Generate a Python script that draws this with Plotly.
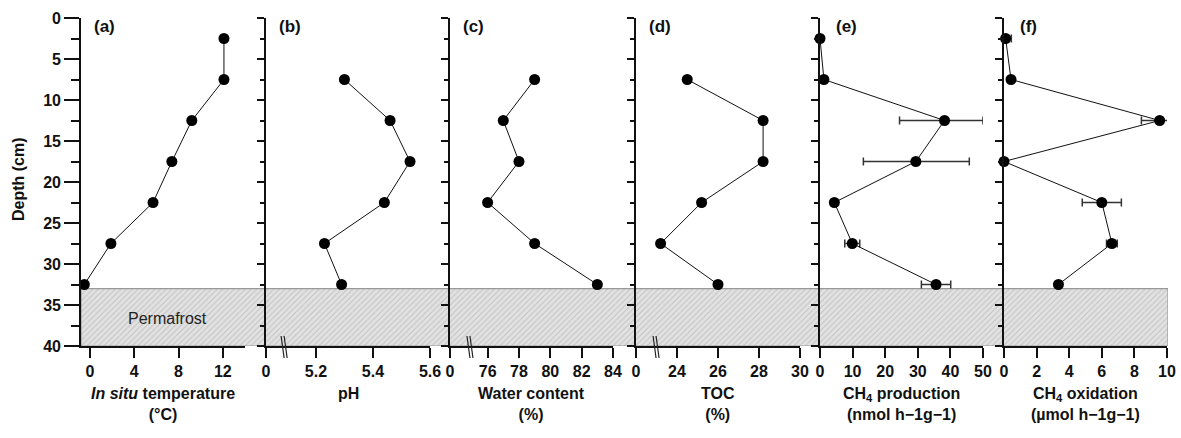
import plotly.graph_objects as go

# ---------------- data ----------------
depth = [2.5, 7.5, 12.5, 17.5, 22.5, 27.5, 32.5]
temperature = [12.1, 12.1, 9.2, 7.4, 5.7, 1.9, -0.5]
ph_depth = [7.5, 12.5, 17.5, 22.5, 27.5, 32.5]
ph = [5.30, 5.46, 5.53, 5.44, 5.23, 5.29]
water_content = [79.0, 77.0, 78.0, 76.0, 79.0, 83.0]
toc = [24.5, 28.2, 28.2, 25.2, 23.2, 26.0]
ch4_production = [0.0, 1.2, 38.2, 29.4, 4.4, 9.9, 35.6]
ch4_production_err_plus = [0, 0, 11.8, 16.4, 0, 2.3, 4.5]
ch4_production_err_minus = [0, 0, 13.8, 16.1, 0, 2.3, 4.5]
ch4_oxidation = [0.1, 0.43, 9.55, 0.0, 6.0, 6.62, 3.34]
ch4_oxidation_err = [0.35, 0, 1.12, 0, 1.2, 0.33, 0.15]

permafrost_top = 33
permafrost_bottom = 40

depth_ticks = [0, 5, 10, 15, 20, 25, 30, 35, 40]
depth_ticktext = ["0", "5", "10", "15", "20", "25", "30", "35", "40"]
panel_letters = ["(a)", "(b)", "(c)", "(d)", "(e)", "(f)"]
x_titles = [
    "<i>In situ</i> temperature<br>(°C)",
    "pH",
    "Water content<br>(%)",
    "TOC<br>(%)",
    "CH<sub>4</sub> production<br>(nmol h\u22121g\u22121)",
    "CH<sub>4</sub> oxidation<br>(µmol h\u22121g\u22121)",
]
x_ranges = [[-0.8, 14], [5.025, 5.6], [73.6, 84], [22, 30], [0, 50], [0, 10]]
x_tickvals = [
    [0, 4, 8, 12],
    [5.025, 5.2, 5.4, 5.6],
    [73.6, 76, 78, 80, 82, 84],
    [22, 24, 26, 28, 30],
    [0, 10, 20, 30, 40, 50],
    [0, 2, 4, 6, 8, 10],
]
x_ticktext = [
    ["0", "4", "8", "12"],
    ["0", "5.2", "5.4", "5.6"],
    ["0", "76", "78", "80", "82", "84"],
    ["0", "24", "26", "28", "30"],
    ["0", "10", "20", "30", "40", "50"],
    ["0", "2", "4", "6", "8", "10"],
]
# axis-break positions (panel index -> x value)
axis_breaks = {1: 5.085, 2: 74.81, 3: 22.93}

# ---------------- layout geometry ----------------
W, H = 1181, 438
panel_px = [(81, 245), (266, 430), (450, 613), (636, 800), (820, 983), (1004, 1167)]
top_px, bottom_px = 18, 346
ydom = [(H - bottom_px) / H, (H - top_px) / H]
FONT = "Liberation Sans, Arial, sans-serif"
INK = "#111111"

def bold(labels):
    return [f"<b>{t}</b>" for t in labels]

fig = go.Figure()

# permafrost hatched band (first subplot so it is drawn beneath the panels)
fig.add_trace(go.Scatter(
    x=[0, 1, 1, 0, 0],
    y=[permafrost_top, permafrost_top, permafrost_bottom, permafrost_bottom, permafrost_top],
    mode="lines", fill="toself",
    fillcolor="#e0e0e0",
    fillpattern=dict(shape="/", fgcolor="#a0a0a0", bgcolor="#e2e2e2", size=4, solidity=0.25),
    line=dict(color="#999999", width=1.2),
    xaxis="x", yaxis="y", showlegend=False, hoverinfo="skip",
))
layout = dict(
    xaxis=dict(domain=[panel_px[0][0] / W, 1168 / W], range=[0, 1], visible=False, fixedrange=True),
    yaxis=dict(domain=ydom, range=[40, 0], visible=False, anchor="x"),
)

series = [
    (temperature, depth, None, None),
    (ph, ph_depth, None, None),
    (water_content, ph_depth, None, None),
    (toc, ph_depth, None, None),
    (ch4_production, depth, ch4_production_err_plus, ch4_production_err_minus),
    (ch4_oxidation, depth, ch4_oxidation_err, ch4_oxidation_err),
]

annotations = []
shapes = []
for i, (xv, yv, ep, em) in enumerate(series):
    k = i + 2
    xa, ya = f"x{k}", f"y{k}"
    tr = dict(
        x=xv, y=yv, mode="lines+markers",
        line=dict(color=INK, width=1),
        marker=dict(color="#000000", size=11),
        xaxis=xa, yaxis=ya, showlegend=False, cliponaxis=False,
    )
    if ep is not None:
        tr["error_x"] = dict(type="data", array=ep, arrayminus=em, symmetric=False,
                             color="#333333", thickness=1.5, width=4)
    fig.add_trace(go.Scatter(**tr))

    x0, x1 = panel_px[i]
    layout[f"xaxis{k}"] = dict(
        domain=[x0 / W, x1 / W], range=x_ranges[i], anchor=ya,
        showline=True, linecolor=INK, linewidth=1.6,
        ticks="outside", ticklen=10, tickwidth=1.5, tickcolor=INK,
        tickvals=x_tickvals[i], ticktext=bold(x_ticktext[i]),
        tickfont=dict(family=FONT, size=16, color=INK),
        showgrid=False, zeroline=False,
    )
    first = i == 0
    layout[f"yaxis{k}"] = dict(
        domain=ydom, range=[40, 0], anchor=xa,
        showline=True, linecolor=INK, linewidth=1.6,
        ticks="outside", ticklen=15 if first else 7, tickwidth=1.5, tickcolor=INK,
        tickvals=depth_ticks, ticktext=bold(depth_ticktext), showticklabels=first,
        tickfont=dict(family=FONT, size=16, color=INK),
        minor=dict(ticks="outside", ticklen=8 if first else 4, tickwidth=1.5,
                   tickcolor=INK, tick0=2.5, dtick=5),
        showgrid=False, zeroline=False,
    )
    # panel letter
    annotations.append(dict(
        text=f"<b>{panel_letters[i]}</b>", xref="paper", yref="paper",
        x=(x0 + (14 if i >= 4 else 11)) / W, y=(H - 26) / H,
        xanchor="left", yanchor="middle", showarrow=False,
        font=dict(family=FONT, size=17, color=INK),
    ))
    # x axis title
    annotations.append(dict(
        text=f"<b>{x_titles[i]}</b>".replace("<br>", "</b><br><b>"), xref="paper", yref="paper",
        x=((x0 + x1) / 2) / W, y=(H - 383) / H,
        xanchor="center", yanchor="top", showarrow=False,
        font=dict(family=FONT, size=16, color=INK),
    ))
    # axis break marks
    if i in axis_breaks:
        for off in (0, 3):
            shapes.append(dict(
                type="line", xref=xa, yref="paper",
                xsizemode="pixel", xanchor=axis_breaks[i], x0=-2 + off, x1=1 + off,
                ysizemode="pixel", yanchor=ydom[0], y0=10, y1=-12,
                line=dict(color="#222222", width=1.2),
            ))

annotations.append(dict(
    text="Permafrost", xref="x2", yref="y2", x=7.0, y=36.6,
    showarrow=False, font=dict(family=FONT, size=16, color="#222222"),
))
annotations.append(dict(
    text="<b>Depth (cm)</b>", xref="paper", yref="paper", x=18 / W, y=(H - 179) / H,
    textangle=-90, showarrow=False, xanchor="center", yanchor="middle",
    font=dict(family=FONT, size=16, color=INK),
))

fig.update_layout(
    width=W, height=H,
    margin=dict(l=0, r=0, t=0, b=0, autoexpand=False),
    paper_bgcolor="white", plot_bgcolor="rgba(0,0,0,0)",
    annotations=annotations, shapes=shapes,
    **layout,
)

fig.write_html("out.html")

# make sure the page itself adds no offset around the figure
with open("out.html", "r", encoding="utf-8") as f:
    html = f.read()
html = html.replace("<body>", '<body style="margin:0;padding:0;overflow:hidden">', 1)
with open("out.html", "w", encoding="utf-8") as f:
    f.write(html)
